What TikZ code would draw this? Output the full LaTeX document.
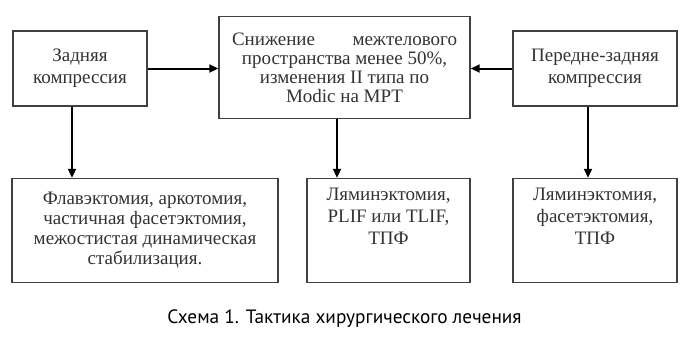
\documentclass[tikz,border=0pt]{standalone}
\usepackage{fontspec}
\setmainfont{Liberation Serif}
\newfontfamily\capfont{PT Sans}
\usetikzlibrary{arrows.meta}
\begin{document}
\begin{tikzpicture}[x=1pt,y=-1pt,
  box/.style={draw=black!75, line width=1.4pt, inner sep=0pt, align=center,
    text=black!80, font=\fontsize{19}{20}\selectfont},
  txt/.style={inner sep=0pt, align=center, text=black!80, font=\fontsize{19}{22}\selectfont},
  arr/.style={line width=2pt, -{Triangle[length=9pt,width=8pt]}}]
\useasboundingbox[fill=white] (0,0) rectangle (692,338);
% top row
\node[box, minimum width=134pt, minimum height=75pt, font=\fontsize{19}{22}\selectfont] (A) at (80,68.5) {Задняя\\компрессия};
\node[box, minimum width=251pt, minimum height=102pt, font=\fontsize{19}{19}\selectfont] (C) at (344.5,67.5)
  {\makebox[225pt]{Снижение\hfill межтелового}\\пространства менее 50\%,\\изменения II типа по\\Modic на МРТ};
\node[box, minimum width=164pt, minimum height=75pt, font=\fontsize{19}{22}\selectfont] (B) at (595,68.5) {Передне-задняя\\компрессия};
% bottom row
\node[box, minimum width=266pt, minimum height=104pt] (D) at (145,230.5)
  {Флавэктомия, аркотомия,\\частичная фасетэктомия,\\межостистая динамическая\\стабилизация.};
\node[box, minimum width=163pt, minimum height=104pt] (E) at (388.5,230.5) {};
\node[box, minimum width=164pt, minimum height=104pt] (F) at (595,230.5) {};
\node[txt, anchor=north] (Et) at ([yshift=-10pt]E.north) {Ляминэктомия,\\PLIF или TLIF,\\ТПФ};
\node[txt, anchor=north] (Ft) at ([yshift=-10pt]F.north) {Ляминэктомия,\\фасетэктомия,\\ТПФ};
% arrows
\draw[arr] (A.east) -- (C.west |- A.east);
\draw[arr] (B.west) -- (C.east |- B.west);
\draw[arr] ([xshift=-8pt]A.south) -- ([xshift=-8pt]A.south |- D.north);
\draw[arr] ([xshift=-7.5pt]C.south) -- ([xshift=-7.5pt]C.south |- E.north);
\draw[arr] ([xshift=-7pt]B.south) -- ([xshift=-7pt]B.south |- F.north);
% caption
\node[anchor=base, inner sep=0pt, font=\capfont\fontsize{19.3}{21}\selectfont] (cap) at (344.5,323) {Схема 1. Тактика хирургического лечения};
\end{tikzpicture}
\end{document}
